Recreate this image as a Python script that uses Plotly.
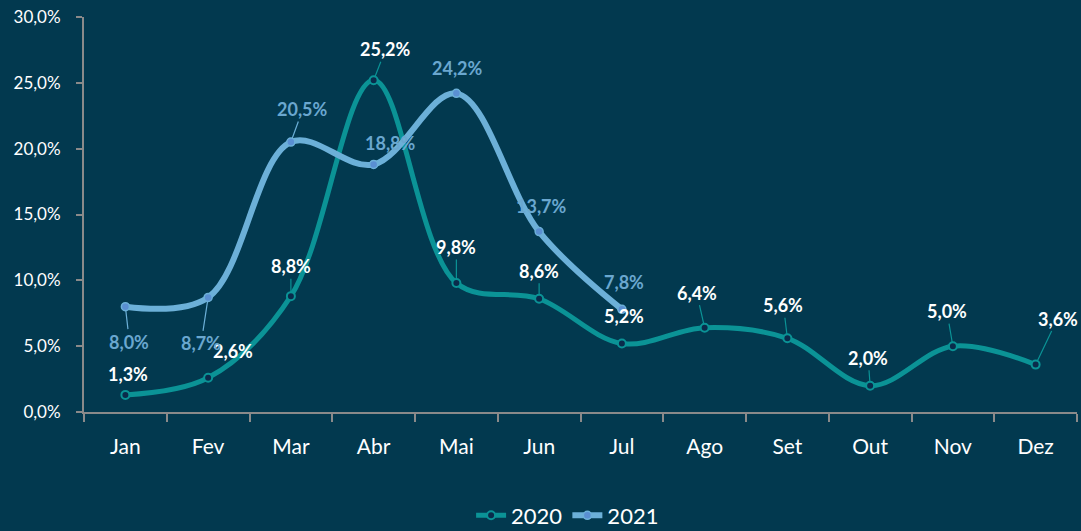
import plotly.graph_objects as go

months = ["Jan", "Fev", "Mar", "Abr", "Mai", "Jun", "Jul", "Ago", "Set", "Out", "Nov", "Dez"]
v2020 = [1.3, 2.6, 8.8, 25.2, 9.8, 8.6, 5.2, 6.4, 5.6, 2.0, 5.0, 3.6]
v2021 = [8.0, 8.7, 20.5, 18.8, 24.2, 13.7, 7.8]
yticks = [0, 5, 10, 15, 20, 25, 30]
ytick_text = ["0,0%", "5,0%", "10,0%", "15,0%", "20,0%", "25,0%", "30,0%"]

BG = "#02394f"
C2020 = "#0b9396"
C2021 = "#6cb0d8"
T2021 = "#6aa7cf"

def fmt(v):
    return f"{v:.1f}".replace(".", ",") + "%"

# label offsets (px) and whether a leader line is drawn
off2020 = [(3, -21, False), (25, -27, False), (0, -30, True), (12, -31, True), (0, -36, True),
           (0, -28, True), (2, -28, False), (-8, -35, True), (-4, -33, True), (-2, -28, True),
           (-6, -35, True), (22, -46, True)]
off2021 = [(4, 35, True), (-7, 46, True), (12, -33, True), (17, -21, False), (1, -25, False),
           (2, -26, False), (2, -27, False)]

fig = go.Figure()
fig.add_trace(go.Scatter(x=months, y=v2020, name="2020", mode="lines+markers",
                         line=dict(color=C2020, width=5, shape="spline", smoothing=1.0),
                         marker=dict(size=8, color="#0a2b4b", line=dict(color=C2020, width=2))))
fig.add_trace(go.Scatter(x=months[:len(v2021)], y=v2021, name="2021", mode="lines+markers",
                         line=dict(color=C2021, width=6, shape="spline", smoothing=1.0),
                         marker=dict(size=8, color="#5a8fd2", line=dict(color=C2021, width=1.5))))

anns = []
for vals, offs, col, tcol in [(v2020, off2020, C2020, "white"), (v2021, off2021, C2021, T2021)]:
    for m, v, (dx, dy, lead) in zip(months, vals, offs):
        a = dict(x=m, y=v, text="<b>" + fmt(v) + "</b>",
                 font=dict(family="Lato", size=18, color=tcol), xref="x", yref="y")
        if lead:
            a.update(showarrow=True, ax=dx, ay=dy, arrowhead=0, arrowwidth=1.2,
                     arrowcolor=col, standoff=4)
        else:
            a.update(showarrow=False, xshift=dx, yshift=-dy)
        anns.append(a)

fig.update_layout(
    width=1081, height=531,
    paper_bgcolor=BG, plot_bgcolor=BG,
    margin=dict(l=84, r=4, t=17, b=119, autoexpand=False),
    font=dict(family="Lato", color="white"),
    showlegend=True,
    legend=dict(orientation="h", x=0.487, xanchor="center", y=-0.262, yanchor="middle",
                font=dict(size=22, color="white"), tracegroupgap=0),
    annotations=anns,
    xaxis=dict(type="category", categoryorder="array", categoryarray=months, automargin=False,
               range=[-0.5, 11.5], showgrid=False, showline=True, linecolor="#8a8a8a", linewidth=2,
               ticks="outside", tickson="boundaries", ticklen=8, tickcolor="#8a8a8a", tickwidth=2,
               tickfont=dict(size=21, color="white"), ticklabelstandoff=15, zeroline=False),
    yaxis=dict(range=[0, 30], tickvals=yticks, ticktext=ytick_text, showgrid=False, automargin=False,
               showline=True, linecolor="#8a8a8a", linewidth=2, ticks="outside", ticklen=6,
               tickcolor="#8a8a8a", tickwidth=2, tickfont=dict(size=17, color="white"),
               ticklabelstandoff=12, zeroline=False),
)

fig.write_html("out.html")
